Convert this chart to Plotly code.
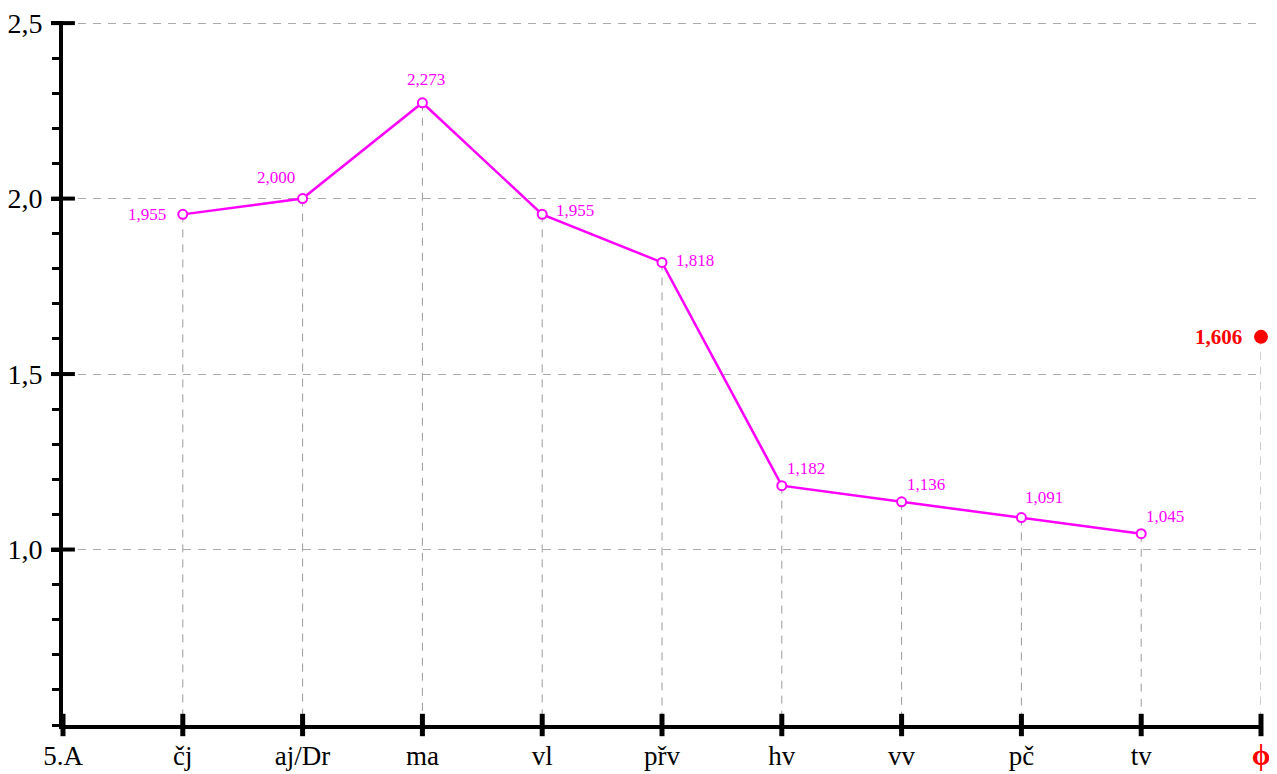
import plotly.graph_objects as go

# ---- data ----
chart_name = "5.A"
subjects = ["čj", "aj/Dr", "ma", "vl", "přv", "hv", "vv", "pč", "tv"]
averages = [1.955, 2.000, 2.273, 1.955, 1.818, 1.182, 1.136, 1.091, 1.045]
overall_label = "ϕ"
overall_value = 1.606
y_tick_values = [1.0, 1.5, 2.0, 2.5]
y_tick_labels = ["1,0", "1,5", "2,0", "2,5"]
y_min, y_max = 0.5, 2.5

# ---- label placement (pixel offsets from each point; style, not data) ----
label_anchor = ["right", "center", "center", "left", "left", "left", "left", "left", "left"]
label_dx = [-15, -27, 4, 12, 12, 3, 3, 2, 3]
label_dy = [0, 21, 23, 4, 2, 17, 17, 20, 17]

categories = [chart_name] + subjects + [overall_label]
tick_texts = [chart_name] + subjects + [
    "<span style='color:#ff0000;font-size:30px'><b>ϕ</b></span>"]

FONT = "Liberation Serif, Times New Roman, serif"
MAGENTA = "#ff00ff"


def fmt(v):
    return f"{v:.3f}".replace(".", ",")


fig = go.Figure()

# drop lines from each point down to the x axis
dx, dy = [], []
for c, v in zip(subjects + [overall_label], averages + [overall_value]):
    dx += [c, c, None]
    dy += [v, y_min, None]
fig.add_trace(go.Scatter(x=dx, y=dy, mode="lines", cliponaxis=False,
                         line=dict(color="#9a9a9a", width=1, dash="8px,7px"),
                         hoverinfo="skip"))

# main series
fig.add_trace(go.Scatter(
    x=subjects, y=averages, mode="lines+markers", cliponaxis=False,
    line=dict(color=MAGENTA, width=2.5),
    marker=dict(symbol="circle", size=9, color="white", line=dict(color=MAGENTA, width=2)),
))

# overall average point
fig.add_trace(go.Scatter(
    x=[overall_label], y=[overall_value], mode="markers", cliponaxis=False,
    marker=dict(symbol="circle", size=14, color="#ff0000"),
))

# x-axis tick marks crossing the axis
fig.add_trace(go.Scatter(
    x=categories, y=[y_min] * len(categories), mode="markers", cliponaxis=False,
    marker=dict(symbol="line-ns", size=16, line=dict(color="black", width=5)),
    hoverinfo="skip"))

# y-axis major tick marks crossing the axis
fig.add_trace(go.Scatter(
    x=[chart_name] * len(y_tick_values), y=y_tick_values, mode="markers", cliponaxis=False,
    marker=dict(symbol="line-ew", size=17, line=dict(color="black", width=4)),
    hoverinfo="skip"))

# value labels
annotations = []
for c, v, a, ox, oy in zip(subjects, averages, label_anchor, label_dx, label_dy):
    annotations.append(dict(x=c, y=v, xref="x", yref="y", text=fmt(v), showarrow=False,
                            xanchor=a, yanchor="middle", xshift=ox, yshift=oy,
                            font=dict(family=FONT, size=17, color=MAGENTA)))
annotations.append(dict(x=overall_label, y=overall_value, xref="x", yref="y",
                        text=f"<b>{fmt(overall_value)}</b>", showarrow=False,
                        xanchor="right", yanchor="middle", xshift=-17, yshift=0,
                        font=dict(family=FONT, size=21, color="#ff0000")))

# page body has an 8px margin, so the figure is sized/placed to compensate
fig.update_layout(
    width=1269, height=766, autosize=False,
    margin=dict(l=55, r=16, t=13, b=49, autoexpand=False),
    paper_bgcolor="white", plot_bgcolor="white",
    showlegend=False, hovermode=False,
    font=dict(family=FONT, size=28, color="black"),
    annotations=annotations,
)

fig.update_xaxes(
    type="category", categoryorder="array", categoryarray=categories,
    range=[0, len(categories) - 1], automargin=False,
    tickmode="array", tickvals=categories, ticktext=tick_texts,
    showgrid=False, zeroline=False,
    showline=True, linewidth=4, linecolor="black",
    ticks="", ticklabelstandoff=4, ticklabeloverflow="allow",
    tickfont=dict(family=FONT, size=27, color="black"),
)

fig.update_yaxes(
    range=[y_min, y_max + 0.006], automargin=False,
    tickmode="array", tickvals=y_tick_values, ticktext=y_tick_labels,
    showgrid=True, gridcolor="#aaaaaa", gridwidth=1, griddash="8px,7px",
    zeroline=False,
    showline=True, linewidth=4, linecolor="black",
    ticks="outside", ticklen=8, tickwidth=4, tickcolor="black",
    ticklabelstandoff=3, ticklabeloverflow="allow",
    minor=dict(dtick=0.1, tick0=0.5, ticks="outside", ticklen=7, tickwidth=3,
               tickcolor="black", showgrid=False),
    tickfont=dict(family=FONT, size=28, color="black"),
)

fig.write_html("out.html")
